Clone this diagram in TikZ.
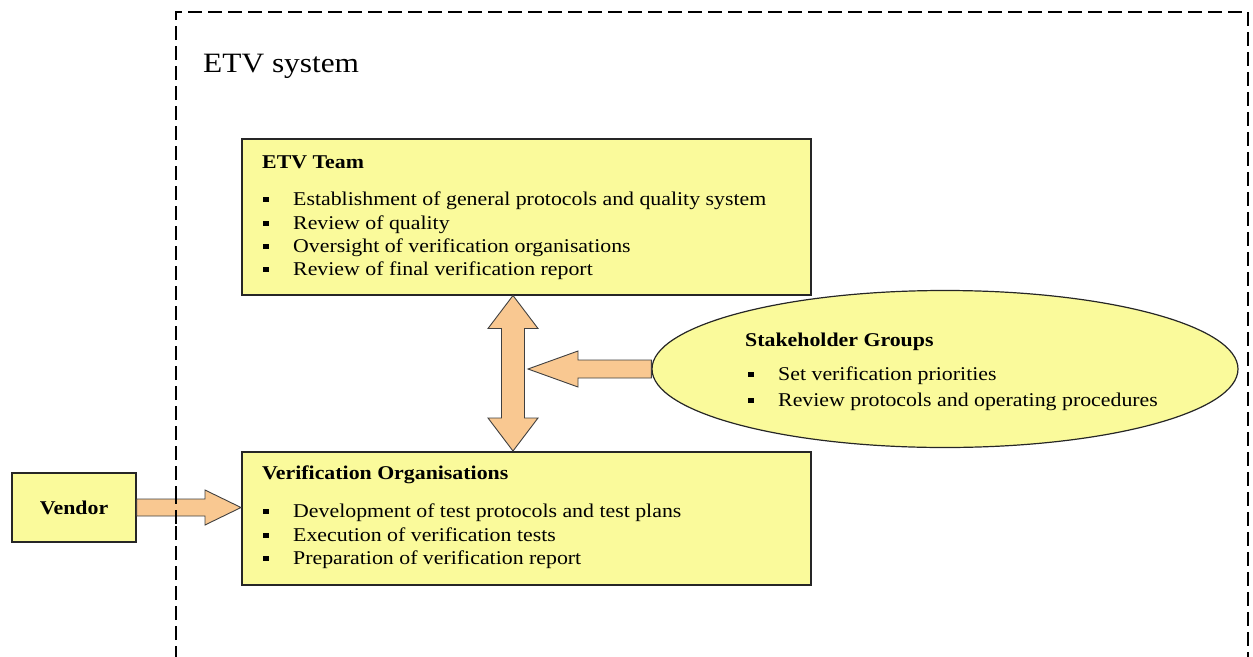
\documentclass[tikz,border=0pt]{standalone}
\usepackage{fontspec}
\setmainfont{Liberation Serif}[FakeStretch=1.12]
\usetikzlibrary{shapes.geometric,calc}
\definecolor{boxfill}{RGB}{250,250,155}
\definecolor{arrowfill}{RGB}{249,200,145}
\newcommand\sqbullet{\makebox[30pt][l]{\rule[2.6pt]{5.5pt}{5.5pt}}}
\tikzset{
  box/.style={draw=black!85, line width=1.5pt, fill=boxfill, inner sep=0pt},
  blockarrow/.style={draw=black!75, line width=0.9pt, fill=arrowfill, line join=miter},
  boxtitle/.style={anchor=base west, inner sep=0pt, font=\bfseries\fontsize{19.5}{23}\selectfont},
  itemtext/.style={anchor=base west, inner sep=0pt, font=\fontsize{19.5}{23}\selectfont},
  frame/.style={line width=1.3pt, dash pattern=on 14pt off 6pt}
}
\begin{document}
\begin{tikzpicture}[x=1pt, y=-1pt]
\useasboundingbox (0,0) rectangle (1253,656);

% outer ETV system boundary, open at the bottom
\draw[frame] (176,680) -- (176,12) -- (1248,12) -- (1248,680);
\node[anchor=base west, inner sep=0pt, font=\fontsize{28}{32}\selectfont] (sys) at (203,72) {ETV system};

% ETV Team
\node[box, anchor=north west, minimum width=569pt, minimum height=156pt] (etv) at (241,138) {};
\node[boxtitle] (etvt) at (262,168) {ETV Team};
\foreach \y/\t [count=\i] in {205/Establishment of general protocols and quality system,
                              229/Review of quality,
                              252/Oversight of verification organisations,
                              275/Review of final verification report}
  \node[itemtext] (etv-\i) at (263,\y) {\sqbullet\t};

% Verification Organisations
\node[box, anchor=north west, minimum width=569pt, minimum height=133pt] (vo) at (241,451) {};
\node[boxtitle] (vot) at (262,479) {Verification Organisations};
\foreach \y/\t [count=\i] in {517/Development of test protocols and test plans,
                              541/Execution of verification tests,
                              564/Preparation of verification report}
  \node[itemtext] (vo-\i) at (263,\y) {\sqbullet\t};

% Stakeholder Groups
\node[draw=black!85, line width=1.2pt, fill=boxfill, ellipse, inner sep=0pt,
      minimum width=586pt, minimum height=157pt] (sg) at (945,369) {};
\node[boxtitle] (sgt) at (745,346) {Stakeholder Groups};
\node[itemtext] (sg-1) at (748,380) {\sqbullet Set verification priorities};
\node[itemtext] (sg-2) at (748,406) {\sqbullet Review protocols and operating procedures};

% Vendor
\node[box, minimum width=124pt, minimum height=69pt,
      font=\bfseries\fontsize{19.5}{23}\selectfont] (vendor) at (74,507.5) {Vendor};

% double arrow between ETV Team and Verification Organisations
\coordinate (axis) at (513,0);
\coordinate (ut) at (etv.south -| axis);
\coordinate (dt) at (vo.north -| axis);
\draw[blockarrow] (ut) -- ($(ut)+(25,33)$) -- ($(ut)+(11.5,33)$) -- ($(dt)+(11.5,-33)$)
  -- ($(dt)+(25,-33)$) -- (dt) -- ($(dt)+(-25,-33)$) -- ($(dt)+(-11.5,-33)$)
  -- ($(ut)+(-11.5,33)$) -- ($(ut)+(-25,33)$) -- cycle;

% arrow from Stakeholder Groups to the double arrow
\coordinate (ht) at ($(sg.west -| axis)+(15,0)$);
\draw[blockarrow] (sg.west) -- ($(sg.west)+(0,-9)$) -- ($(ht)+(50,-9)$) -- ($(ht)+(50,-18)$)
  -- (ht) -- ($(ht)+(50,18)$) -- ($(ht)+(50,9)$) -- ($(sg.west)+(0,9)$) -- cycle;

% arrow from Vendor to Verification Organisations
\coordinate (vt) at (vo.west |- vendor.east);
\draw[blockarrow] (vendor.east) ++(0,-8.5) -- ($(vt)+(-36,-8.5)$) -- ($(vt)+(-36,-17.5)$)
  -- (vt) -- ($(vt)+(-36,17.5)$) -- ($(vt)+(-36,8.5)$) -- ($(vendor.east)+(0,8.5)$) -- cycle;
% the boundary line shows through the vendor arrow
\draw[frame] (176,490) -- (176,530);
\end{tikzpicture}
\end{document}
